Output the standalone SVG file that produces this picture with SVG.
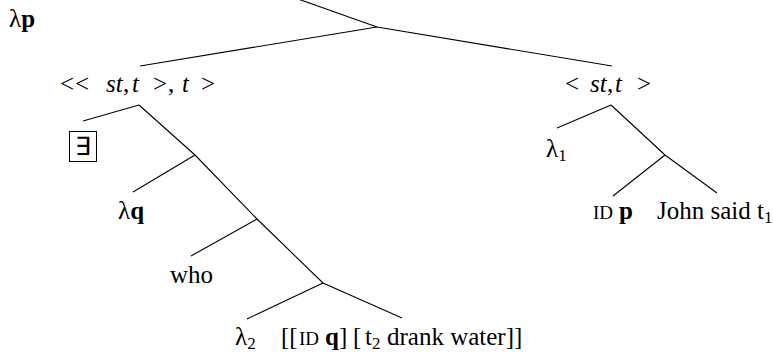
<svg xmlns="http://www.w3.org/2000/svg" width="773" height="356" viewBox="0 0 773 356">
<style>
.e{stroke:#000;stroke-width:1.1;fill:none}
text{font-family:"Liberation Serif","Times New Roman",serif;font-size:25px;fill:#000}
.i{font-style:italic}
.b{font-weight:bold}
.sc{font-size:19px}
.sub{font-size:17px}
</style>
<rect width="773" height="356" fill="#fff"/>
<g id="connectors">
<line class="e" x1="298" y1="-1" x2="377" y2="27"/>
<line class="e" x1="377" y1="27" x2="140" y2="66"/>
<line class="e" x1="377" y1="27" x2="612" y2="66"/>
<line class="e" x1="139" y1="105" x2="83" y2="121"/>
<polyline class="e" points="139,105 195,155 257,219 323,283 402,318"/>
<line class="e" x1="195" y1="155" x2="133" y2="192"/>
<line class="e" x1="257" y1="219" x2="191" y2="256"/>
<line class="e" x1="323" y1="283" x2="247" y2="319"/>
<line class="e" x1="611" y1="105" x2="557" y2="128"/>
<polyline class="e" points="611,105 665,155 717,193"/>
<line class="e" x1="665" y1="155" x2="613" y2="196"/>
</g>
<g id="n_lp"><text x="9" y="27">λ<tspan class="b">p</tspan></text></g>
<g id="n_type1"><text y="92"><tspan x="60">&lt;</tspan><tspan x="75">&lt;</tspan><tspan x="106" class="i">st</tspan><tspan x="123">,</tspan><tspan x="132" class="i">t</tspan><tspan x="153">&gt;</tspan><tspan x="168">,</tspan><tspan x="182" class="i">t</tspan><tspan x="201">&gt;</tspan></text></g>
<g id="n_type2"><text y="92"><tspan x="565">&lt;</tspan><tspan x="590" class="i">st</tspan><tspan x="607">,</tspan><tspan x="615" class="i">t</tspan><tspan x="637">&gt;</tspan></text></g>
<g id="n_exists"><rect x="69.5" y="131.5" width="27" height="30" fill="none" stroke="#000" stroke-width="1"/><text x="83" y="155" text-anchor="middle">∃</text></g>
<g id="n_lq"><text x="118" y="219">λ<tspan class="b">q</tspan></text></g>
<g id="n_who"><text x="170" y="283">who</text></g>
<g id="n_l2"><text x="235" y="345">λ<tspan class="sub" dy="4">2</tspan></text></g>
<g id="n_idq"><text y="345"><tspan x="281">[[</tspan><tspan x="299" class="sc">ID</tspan><tspan x="325" class="b">q</tspan><tspan>]</tspan><tspan x="353">[</tspan><tspan x="365">t</tspan><tspan class="sub" dy="4">2</tspan><tspan x="387" dy="-4">drank water]]</tspan></text></g>
<g id="n_l1"><text x="546" y="157">λ<tspan class="sub" dy="4">1</tspan></text></g>
<g id="n_idp"><text y="219"><tspan x="593" class="sc">ID</tspan><tspan x="619" class="b">p</tspan></text></g>
<g id="n_john"><text x="657" y="219">John said t<tspan class="sub" dy="4">1</tspan></text></g>
</svg>
